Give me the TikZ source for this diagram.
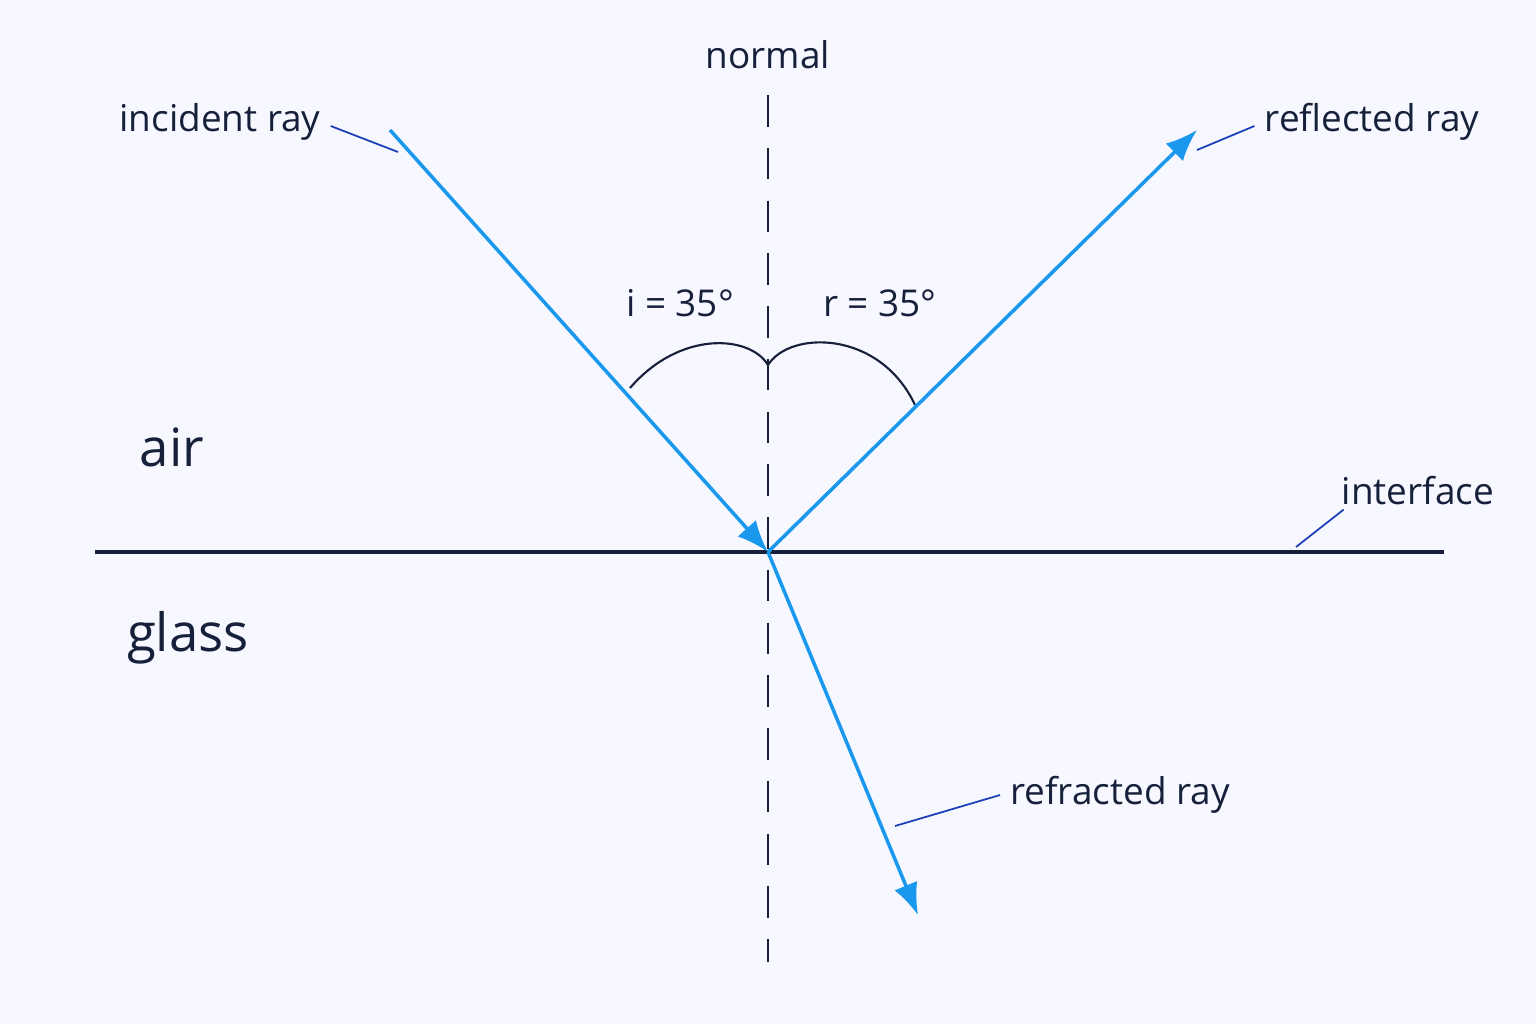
\documentclass[tikz,border=0pt]{standalone}
\usepackage{fontspec}
\setmainfont{Open Sans}
\usetikzlibrary{arrows.meta}
\definecolor{ray}{HTML}{1A98EE}
\definecolor{ink}{HTML}{16203A}
\definecolor{lead}{HTML}{1B3FB8}
\tikzset{
  lbl/.style={font=\fontsize{10.5}{12}\selectfont, text=ink, inner sep=1pt},
  big/.style={font=\fontsize{15}{18}\selectfont, text=ink, inner sep=1pt},
  beam/.style={color=ray, line width=1pt, -{Latex[length=9pt,width=7pt]}},
  leader/.style={color=lead, line width=0.5pt}
}
\begin{document}
\begin{tikzpicture}[x=0.01cm,y=-0.01cm]
\fill[white!97!blue] (0,0) rectangle (1536,1024);
\useasboundingbox (0,0) rectangle (1536,1024);
\coordinate (O) at (768,552);
\coordinate (inStart) at (390,130);
\coordinate (reflEnd) at (1197,130);
\coordinate (refrEnd) at (918,915);
\draw[ink, line width=0.9pt] (95,552) -- (1444,552);
\draw[ink, line width=0.7pt, dash pattern=on 9pt off 6pt] (768,95) -- (768,962);
\draw[ink, line width=0.6pt] (630,388) .. controls (680,330) and (750,335) .. (768,365);
\draw[ink, line width=0.6pt] (768,365) .. controls (790,330) and (880,330) .. (915,405);
\draw[beam] (inStart) -- (O);
\draw[beam] (O) -- (reflEnd);
\draw[beam] (O) -- (refrEnd);
\node[lbl] (normal) at (768,55) {normal};
\node[lbl] (incident) at (220,122) {incident ray};
\node[lbl] (reflected) at (1372,122) {reflected ray};
\node[lbl] (interface) at (1418,491) {interface};
\node[lbl] (refracted) at (1120,795) {refracted ray};
\node[lbl] (iangle) at (680,303) {i = 35°};
\node[lbl] (rangle) at (880,303) {r = 35°};
\node[big] (air) at (172,447) {air};
\node[big] (glass) at (188,638) {glass};
\draw[leader] (incident.east) ++(6,4) -- (398,152);
\draw[leader] (reflected.west) ++(-6,4) -- (1197,150);
\draw[leader] (interface.south west) ++(6,0) -- (1296,547);
\draw[leader] (refracted.west) ++(-6,0) -- (895,826);
\end{tikzpicture}
\end{document}
